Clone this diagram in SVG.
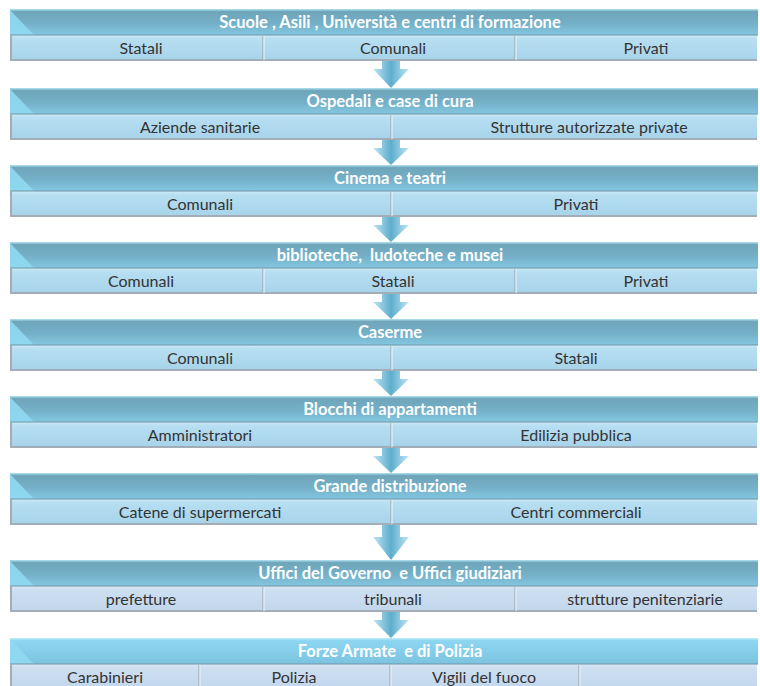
<svg xmlns="http://www.w3.org/2000/svg" width="760" height="686" viewBox="0 0 760 686">
<defs>
<linearGradient id="gHdr" x1="0" y1="0" x2="0" y2="1">
<stop offset="0" stop-color="#b3e4f4"/>
<stop offset="0.1" stop-color="#6fa5ba"/>
<stop offset="0.55" stop-color="#74b0c7"/>
<stop offset="1" stop-color="#84c7e0"/>
</linearGradient>
<linearGradient id="gHdr2" x1="0" y1="0" x2="0" y2="1">
<stop offset="0" stop-color="#c0eefc"/>
<stop offset="0.1" stop-color="#8dd6f2"/>
<stop offset="1" stop-color="#7bc3df"/>
</linearGradient>
<linearGradient id="gCell" x1="0" y1="0" x2="0" y2="1">
<stop offset="0" stop-color="#cdebf8"/>
<stop offset="0.15" stop-color="#b7def1"/>
<stop offset="1" stop-color="#a6d3ea"/>
</linearGradient>
<linearGradient id="gCell2" x1="0" y1="0" x2="0" y2="1">
<stop offset="0" stop-color="#dce9f6"/>
<stop offset="0.15" stop-color="#cddff1"/>
<stop offset="1" stop-color="#c2d6ec"/>
</linearGradient>
<linearGradient id="gArrow" x1="0" y1="0" x2="1" y2="0">
<stop offset="0" stop-color="#bfe6f5"/>
<stop offset="0.5" stop-color="#5eadcc"/>
<stop offset="1" stop-color="#bfe6f5"/>
</linearGradient>
</defs>
<style>
.hdr{fill:url(#gHdr)}
.hdr2{fill:url(#gHdr2)}
.bev{fill:#8fd9f1;opacity:0.9}
.cell{fill:url(#gCell)}
.cell2{fill:url(#gCell2)}
.sep{stroke:#6f95a6;stroke-width:1}
.bot{stroke:#a3adb8;stroke-width:2}
.lft{stroke:#a3adb8;stroke-width:2}
.dv{stroke:#97a2ac;stroke-width:1}
.dvl{stroke:#eef6fa;stroke-width:1}
.ht{font-family:Lato,"Open Sans","Liberation Sans",sans-serif;font-weight:700;font-size:16.5px;fill:#ffffff;text-anchor:middle;white-space:pre}
.ct{font-family:Lato,"Open Sans","Liberation Sans",sans-serif;font-size:16px;fill:#333333;text-anchor:middle;white-space:pre}
.arr{fill:url(#gArrow)}
</style>

<g id="row1" transform="translate(0,9)">
<rect class="hdr" x="10" y="0" width="748" height="26"/>
<polygon class="bev" points="10,1 10,26 34,26"/>
<text class="ht" x="390" y="18.5">Scuole , Asili , Università e centri di formazione</text>
<rect class="cell" x="10" y="26" width="747" height="26"/>
<line class="sep" x1="10" y1="26" x2="758" y2="26"/>
<line class="lft" x1="11" y1="26" x2="11" y2="52"/>
<line class="bot" x1="10" y1="51" x2="757" y2="51"/>
<line class="dv" x1="263" y1="27" x2="263" y2="51"/><line class="dvl" x1="264" y1="27" x2="264" y2="51"/>
<line class="dv" x1="515" y1="27" x2="515" y2="51"/><line class="dvl" x1="516" y1="27" x2="516" y2="51"/>
<text class="ct" x="141" y="44.5">Statali</text>
<text class="ct" x="393" y="44.5">Comunali</text>
<text class="ct" x="646" y="44.5">Privati</text>
</g>

<g id="row2" transform="translate(0,88)">
<rect class="hdr" x="10" y="0" width="748" height="26"/>
<polygon class="bev" points="10,1 10,26 34,26"/>
<text class="ht" x="390" y="18.5">Ospedali e case di cura</text>
<rect class="cell" x="10" y="26" width="747" height="26"/>
<line class="sep" x1="10" y1="26" x2="758" y2="26"/>
<line class="lft" x1="11" y1="26" x2="11" y2="52"/>
<line class="bot" x1="10" y1="51" x2="757" y2="51"/>
<line class="dv" x1="391" y1="27" x2="391" y2="51"/><line class="dvl" x1="392" y1="27" x2="392" y2="51"/>
<text class="ct" x="200" y="44.5">Aziende sanitarie</text>
<text class="ct" x="589" y="44.5">Strutture autorizzate private</text>
</g>

<g id="row3" transform="translate(0,165)">
<rect class="hdr" x="10" y="0" width="748" height="26"/>
<polygon class="bev" points="10,1 10,26 34,26"/>
<text class="ht" x="390" y="18.5">Cinema e teatri</text>
<rect class="cell" x="10" y="26" width="747" height="26"/>
<line class="sep" x1="10" y1="26" x2="758" y2="26"/>
<line class="lft" x1="11" y1="26" x2="11" y2="52"/>
<line class="bot" x1="10" y1="51" x2="757" y2="51"/>
<line class="dv" x1="391" y1="27" x2="391" y2="51"/><line class="dvl" x1="392" y1="27" x2="392" y2="51"/>
<text class="ct" x="200" y="44.5">Comunali</text>
<text class="ct" x="576" y="44.5">Privati</text>
</g>

<g id="row4" transform="translate(0,242)">
<rect class="hdr" x="10" y="0" width="748" height="26"/>
<polygon class="bev" points="10,1 10,26 34,26"/>
<text class="ht" x="390" y="18.5">biblioteche,  ludoteche e musei</text>
<rect class="cell" x="10" y="26" width="747" height="26"/>
<line class="sep" x1="10" y1="26" x2="758" y2="26"/>
<line class="lft" x1="11" y1="26" x2="11" y2="52"/>
<line class="bot" x1="10" y1="51" x2="757" y2="51"/>
<line class="dv" x1="263" y1="27" x2="263" y2="51"/><line class="dvl" x1="264" y1="27" x2="264" y2="51"/>
<line class="dv" x1="515" y1="27" x2="515" y2="51"/><line class="dvl" x1="516" y1="27" x2="516" y2="51"/>
<text class="ct" x="141" y="44.5">Comunali</text>
<text class="ct" x="393" y="44.5">Statali</text>
<text class="ct" x="646" y="44.5">Privati</text>
</g>

<g id="row5" transform="translate(0,319)">
<rect class="hdr" x="10" y="0" width="748" height="26"/>
<polygon class="bev" points="10,1 10,26 34,26"/>
<text class="ht" x="390" y="18.5">Caserme</text>
<rect class="cell" x="10" y="26" width="747" height="26"/>
<line class="sep" x1="10" y1="26" x2="758" y2="26"/>
<line class="lft" x1="11" y1="26" x2="11" y2="52"/>
<line class="bot" x1="10" y1="51" x2="757" y2="51"/>
<line class="dv" x1="391" y1="27" x2="391" y2="51"/><line class="dvl" x1="392" y1="27" x2="392" y2="51"/>
<text class="ct" x="200" y="44.5">Comunali</text>
<text class="ct" x="576" y="44.5">Statali</text>
</g>

<g id="row6" transform="translate(0,396)">
<rect class="hdr" x="10" y="0" width="748" height="26"/>
<polygon class="bev" points="10,1 10,26 34,26"/>
<text class="ht" x="390" y="18.5">Blocchi di appartamenti</text>
<rect class="cell" x="10" y="26" width="747" height="26"/>
<line class="sep" x1="10" y1="26" x2="758" y2="26"/>
<line class="lft" x1="11" y1="26" x2="11" y2="52"/>
<line class="bot" x1="10" y1="51" x2="757" y2="51"/>
<line class="dv" x1="391" y1="27" x2="391" y2="51"/><line class="dvl" x1="392" y1="27" x2="392" y2="51"/>
<text class="ct" x="200" y="44.5">Amministratori</text>
<text class="ct" x="576" y="44.5">Edilizia pubblica</text>
</g>

<g id="row7" transform="translate(0,473)">
<rect class="hdr" x="10" y="0" width="748" height="26"/>
<polygon class="bev" points="10,1 10,26 34,26"/>
<text class="ht" x="390" y="18.5">Grande distribuzione</text>
<rect class="cell" x="10" y="26" width="747" height="26"/>
<line class="sep" x1="10" y1="26" x2="758" y2="26"/>
<line class="lft" x1="11" y1="26" x2="11" y2="52"/>
<line class="bot" x1="10" y1="51" x2="757" y2="51"/>
<line class="dv" x1="391" y1="27" x2="391" y2="51"/><line class="dvl" x1="392" y1="27" x2="392" y2="51"/>
<text class="ct" x="200" y="44.5">Catene di supermercati</text>
<text class="ct" x="576" y="44.5">Centri commerciali</text>
</g>

<g id="row8" transform="translate(0,560)">
<rect class="hdr" x="10" y="0" width="748" height="26"/>
<polygon class="bev" points="10,1 10,26 34,26"/>
<text class="ht" x="390" y="18.5">Uffici del Governo  e Uffici giudiziari</text>
<rect class="cell2" x="10" y="26" width="747" height="26"/>
<line class="sep" x1="10" y1="26" x2="758" y2="26"/>
<line class="lft" x1="11" y1="26" x2="11" y2="52"/>
<line class="bot" x1="10" y1="51" x2="757" y2="51"/>
<line class="dv" x1="263" y1="27" x2="263" y2="51"/><line class="dvl" x1="264" y1="27" x2="264" y2="51"/>
<line class="dv" x1="515" y1="27" x2="515" y2="51"/><line class="dvl" x1="516" y1="27" x2="516" y2="51"/>
<text class="ct" x="141" y="44.5">prefetture</text>
<text class="ct" x="393" y="44.5">tribunali</text>
<text class="ct" x="645" y="44.5">strutture penitenziarie</text>
</g>

<g id="row9" transform="translate(0,638)">
<rect class="hdr2" x="10" y="0" width="748" height="26"/>
<polygon class="bev" points="10,1 10,26 34,26"/>
<text class="ht" x="390" y="18.5">Forze Armate  e di Polizia</text>
<rect class="cell2" x="10" y="26" width="747" height="26"/>
<line class="sep" x1="10" y1="26" x2="758" y2="26"/>
<line class="lft" x1="11" y1="26" x2="11" y2="52"/>
<line class="dv" x1="199" y1="27" x2="199" y2="52"/><line class="dvl" x1="200" y1="27" x2="200" y2="52"/>
<line class="dv" x1="390" y1="27" x2="390" y2="52"/><line class="dvl" x1="391" y1="27" x2="391" y2="52"/>
<line class="dv" x1="579" y1="27" x2="579" y2="52"/><line class="dvl" x1="580" y1="27" x2="580" y2="52"/>
<text class="ct" x="105" y="44.5">Carabinieri</text>
<text class="ct" x="294" y="44.5">Polizia</text>
<text class="ct" x="484" y="44.5">Vigili del fuoco</text>
</g>

<g id="connectors">
<path class="arr" d="M382,61 H400 V69 H409 L391,88 L373,69 H382 Z"/>
<path class="arr" d="M382,140 H400 V148 H409 L391,165 L373,148 H382 Z"/>
<path class="arr" d="M382,217 H400 V225 H409 L391,242 L373,225 H382 Z"/>
<path class="arr" d="M382,294 H400 V302 H409 L391,319 L373,302 H382 Z"/>
<path class="arr" d="M382,371 H400 V379 H409 L391,396 L373,379 H382 Z"/>
<path class="arr" d="M382,448 H400 V456 H409 L391,473 L373,456 H382 Z"/>
<path class="arr" d="M382,525 H400 V537 H409 L391,560 L373,537 H382 Z"/>
<path class="arr" d="M382,612 H400 V620 H409 L391,638 L373,620 H382 Z"/>
</g>
</svg>
